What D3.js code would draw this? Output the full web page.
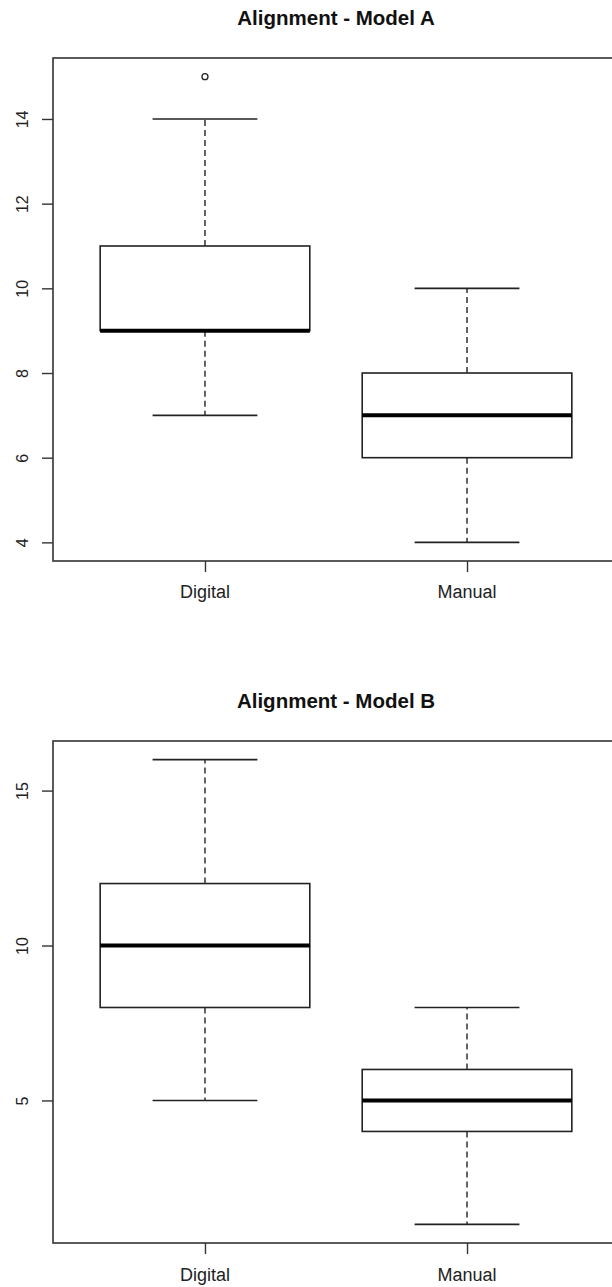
<!DOCTYPE html>
<html><head><meta charset="utf-8">
<script src="https://cdn.jsdelivr.net/npm/d3@7"></script>
<style>body{margin:0;background:#fff}svg{display:block;font-family:"Liberation Sans",Arial,sans-serif}</style>
</head><body><svg id="c" width="612" height="1287"></svg>
<script>
const categories = ["Digital", "Manual"];
const titles = ["Alignment - Model A", "Alignment - Model B"];
// Model A
const aLow = [7, 4], aQ1 = [9, 6], aMed = [9, 7], aQ3 = [11, 8], aHigh = [14, 10];
const aOut = [[15], []];
const aTicks = [4, 6, 8, 10, 12, 14];
// Model B
const bLow = [5, 1], bQ1 = [8, 4], bMed = [10, 5], bQ3 = [12, 6], bHigh = [16, 8];
const bOut = [[], []];
const bTicks = [5, 10, 15];

const svg = d3.select("#c");
const ink = "#222";

const panels = [
  {title: titles[0], low: aLow, q1: aQ1, med: aMed, q3: aQ3, high: aHigh, out: aOut, ticks: aTicks,
   titleY: 25, top: 58, bottom: 561, labY: 598},
  {title: titles[1], low: bLow, q1: bQ1, med: bMed, q3: bQ3, high: bHigh, out: bOut, ticks: bTicks,
   titleY: 708, top: 741, bottom: 1243, labY: 1281}
];

const x = d3.scaleLinear().domain([0.42, 2.58]).range([53, 619]);

panels.forEach(p => {
  const allV = p.low.concat(p.high, p.out.flat());
  const lo = d3.min(allV), hi = d3.max(allV), ext = (hi - lo) * 0.04;
  const y = d3.scaleLinear().domain([lo - ext, hi + ext]).range([p.bottom, p.top]);
  const g = svg.append("g");

  g.append("text").attr("x", 336).attr("y", p.titleY).attr("text-anchor", "middle")
    .attr("font-size", 20.5).attr("font-weight", "bold").attr("fill", "#111").text(p.title);

  // frame
  g.append("rect").attr("x", x(0.42)).attr("y", p.top).attr("width", x(2.58) - x(0.42))
    .attr("height", p.bottom - p.top).attr("fill", "none").attr("stroke", "#333").attr("stroke-width", 1.6);

  // y axis
  const ya = g.append("g").attr("transform", `translate(${x(0.42)},0)`)
    .call(d3.axisLeft(y).tickValues(p.ticks).tickSize(11).tickFormat(d3.format("d")));
  ya.select(".domain").remove();
  ya.selectAll("line").attr("stroke", "#333").attr("stroke-width", 1.4);
  ya.selectAll(".tick text").attr("font-size", 16).attr("fill", "#222")
    .attr("font-family", "'Liberation Sans',Arial,sans-serif")
    .attr("x", null).attr("dy", null)
    .attr("transform", "translate(-31,0) rotate(-90)").attr("text-anchor", "middle")
    .attr("dy", "0.35em");

  // x axis
  const xa = g.append("g").attr("transform", `translate(0,${p.bottom})`)
    .call(d3.axisBottom(x).tickValues([1, 2]).tickSize(11).tickFormat(""));
  xa.select(".domain").remove();
  xa.selectAll("line").attr("stroke", "#333").attr("stroke-width", 1.4);
  categories.forEach((c, i) => {
    g.append("text").attr("x", x(i + 1)).attr("y", p.labY).attr("text-anchor", "middle")
      .attr("font-size", 18).attr("fill", "#222").text(c);
  });

  categories.forEach((c, i) => {
    const cx = x(i + 1), bw = x(1.4) - x(1), cw = x(1.2) - x(1);
    // whiskers dashed
    g.append("line").attr("x1", cx).attr("x2", cx).attr("y1", y(p.q3[i])).attr("y2", y(p.high[i]))
      .attr("stroke", ink).attr("stroke-width", 1.4).attr("stroke-dasharray", "6,4");
    g.append("line").attr("x1", cx).attr("x2", cx).attr("y1", y(p.q1[i])).attr("y2", y(p.low[i]))
      .attr("stroke", ink).attr("stroke-width", 1.4).attr("stroke-dasharray", "6,4");
    // caps
    [p.low[i], p.high[i]].forEach(v => {
      g.append("line").attr("x1", cx - cw).attr("x2", cx + cw).attr("y1", y(v)).attr("y2", y(v))
        .attr("stroke", ink).attr("stroke-width", 1.6);
    });
    // box
    g.append("rect").attr("x", cx - bw).attr("y", y(p.q3[i])).attr("width", 2 * bw)
      .attr("height", y(p.q1[i]) - y(p.q3[i])).attr("fill", "#fff").attr("stroke", ink).attr("stroke-width", 1.6);
    g.append("line").attr("x1", cx - bw).attr("x2", cx + bw).attr("y1", y(p.med[i])).attr("y2", y(p.med[i]))
      .attr("stroke", "#000").attr("stroke-width", 4);
    p.out[i].forEach(v => {
      g.append("circle").attr("cx", cx).attr("cy", y(v)).attr("r", 3)
        .attr("fill", "none").attr("stroke", ink).attr("stroke-width", 1.3);
    });
  });
});
</script></body></html>
